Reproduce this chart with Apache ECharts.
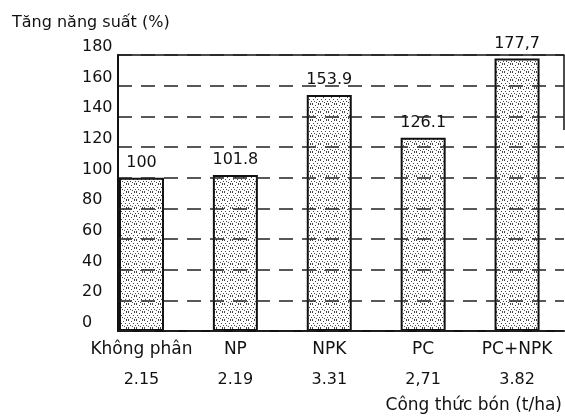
<!DOCTYPE html>
<html>
<head>
<meta charset="utf-8">
<script src="https://cdn.jsdelivr.net/npm/echarts@6/dist/echarts.min.js"></script>
<style>html,body{margin:0;padding:0;background:#fff}#c{width:565px;height:420px}</style>
</head>
<body>
<div id="c"></div>
<script>
const categories = ['Không phân', 'NP', 'NPK', 'PC', 'PC+NPK'];
const yields = ['2.15', '2.19', '3.31', '2,71', '3.82'];
const increase = [100, 101.8, 153.9, 126.1, 177.7];
const valueLabels = ['100', '101.8', '153.9', '126.1', '177,7'];
const yTicks = [0, 20, 40, 60, 80, 100, 120, 140, 160, 180];

const FONT = 'DejaVu Sans';

// stipple texture
const pc = document.createElement('canvas');
pc.width = 8; pc.height = 8;
const g = pc.getContext('2d');
g.fillStyle = '#ffffff'; g.fillRect(0, 0, 8, 8);
g.fillStyle = '#444444';
[[0,0],[3,1],[6,0],[1,3],[5,3],[2,5],[7,5],[4,6],[0,7],[6,7]].forEach(p => g.fillRect(p[0], p[1], 1, 1));

const chart = echarts.init(document.getElementById('c'), null, {renderer: 'canvas'});
chart.setOption({
  animation: false,
  backgroundColor: '#fff',
  title: {
    text: 'Tăng năng suất (%)', left: 7, top: 10,
    textStyle: {fontFamily: FONT, fontSize: 16, fontWeight: 'normal', color: '#111'}
  },
  grid: {left: 118, right: 0, top: 55, bottom: 89},
  xAxis: [{
    type: 'value', min: -0.25, max: 4.5, splitNumber: 5,
    axisLine: {show: true, onZero: false, lineStyle: {color: '#111', width: 2}},
    axisTick: {show: false},
    splitLine: {show: false},
    axisLabel: {
      show: true, margin: 4, showMinLabel: false, showMaxLabel: false,
      formatter: v => {
        const i = Math.round(v);
        if (Math.abs(v - i) > 1e-6 || i < 0 || i >= categories.length) return '';
        return '{n|' + categories[i] + '}\n{v|' + yields[i] + '}';
      },
      rich: {
        n: {fontFamily: FONT, fontSize: 17, color: '#111', lineHeight: 30},
        v: {fontFamily: FONT, fontSize: 16, color: '#111', lineHeight: 30}
      }
    },
    name: 'Công thức bón (t/ha)', nameLocation: 'end', nameGap: 0,
    nameTextStyle: {fontFamily: FONT, fontSize: 17, color: '#111', align: 'right', verticalAlign: 'top', padding: [66, 2, 0, 0]}
  }, {
    type: 'value', position: 'top', min: -0.25, max: 4.5,
    axisLine: {show: true, onZero: false, lineStyle: {color: '#111', width: 1.5}},
    axisTick: {show: false}, axisLabel: {show: false}, splitLine: {show: false}
  }],
  yAxis: {
    type: 'value', min: 0, max: 180, interval: 20, z: 3,
    axisLine: {show: true, onZero: false, lineStyle: {color: '#111', width: 2}},
    axisTick: {show: false},
    axisLabel: {
      margin: 36, align: 'left', verticalAlign: 'bottom', fontFamily: FONT, fontSize: 16, color: '#111',
      formatter: v => yTicks.indexOf(v) >= 0 ? String(v) : ''
    },
    splitLine: {show: true, lineStyle: {color: '#222', width: 1.5, type: [14, 9]}}
  },
  graphic: [{
    type: 'line', shape: {x1: 564, y1: 55, x2: 564, y2: 130},
    style: {stroke: '#111', lineWidth: 1.5}
  }],
  series: [{
    type: 'bar',
    xAxisIndex: 0,
    barWidth: 45,
    data: increase.map((v, i) => [i, v]),
    itemStyle: {color: {image: pc, repeat: 'repeat'}, borderColor: '#111', borderWidth: 2},
    label: {
      show: true, position: 'top', distance: 7,
      fontFamily: FONT, fontSize: 16, color: '#111',
      formatter: p => valueLabels[p.dataIndex]
    }
  }]
});
</script>
</body>
</html>
